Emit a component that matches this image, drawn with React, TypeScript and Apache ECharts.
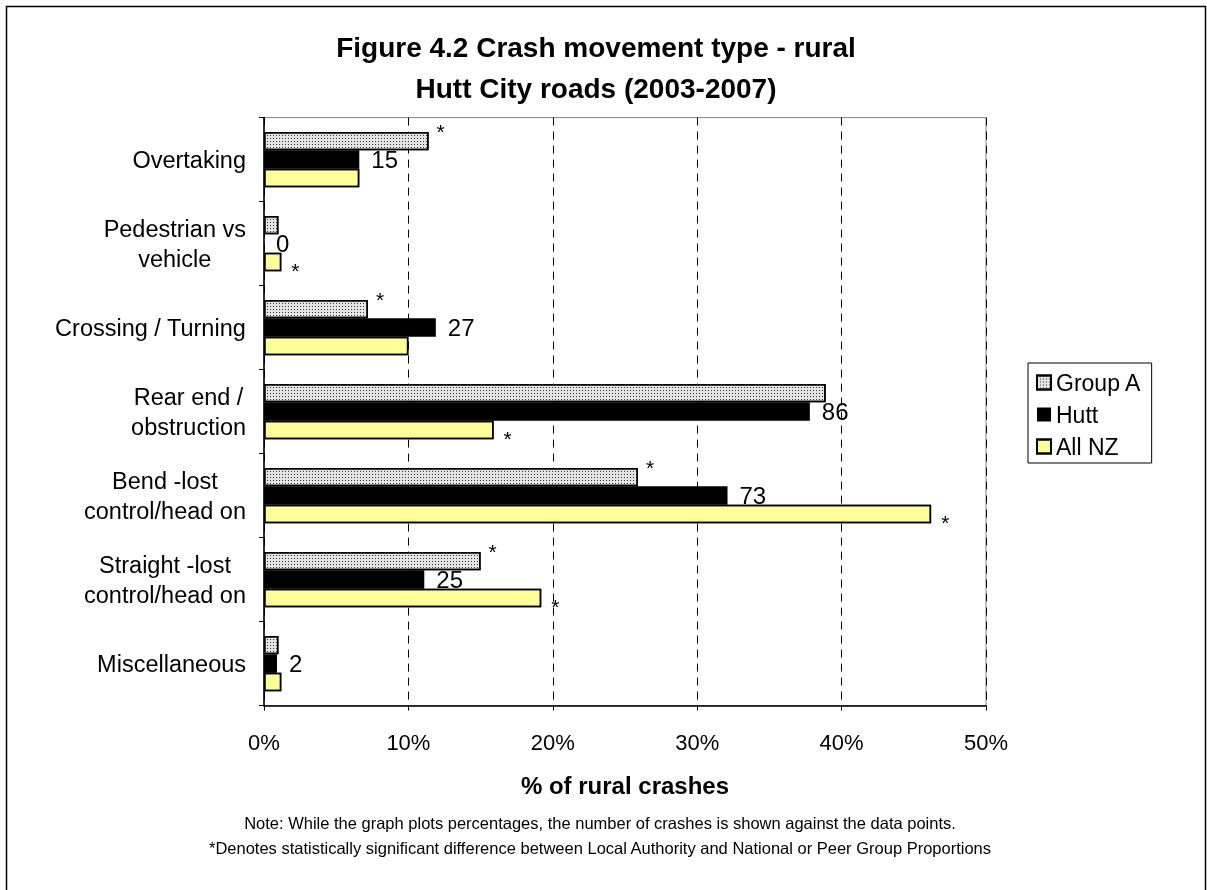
import React, { useEffect, useRef } from "react";
import * as echarts from "echarts";

const categories = [
  "Overtaking",
  "Pedestrian vs\nvehicle",
  "Crossing / Turning",
  "Rear end /\nobstruction",
  "Bend -lost\ncontrol/head on",
  "Straight -lost\ncontrol/head on",
  "Miscellaneous",
];
const groupA = [11.4, 1.0, 7.2, 38.9, 25.9, 15.0, 1.0];
const hutt = [6.6, 0, 11.9, 37.8, 32.1, 11.1, 0.9];
const allNZ = [6.6, 1.2, 10.0, 15.9, 46.2, 19.2, 1.2];
const huttCounts = [15, 0, 27, 86, 73, 25, 2];
const groupASig = [true, false, true, false, true, true, false];
const allNZSig = [false, true, false, true, true, true, false];

const FONT = "'Liberation Sans', Arial, sans-serif";
const NO_DECAL = { symbol: "rect", color: "rgba(0,0,0,0)", dashArrayX: [1, 0], dashArrayY: [1, 0] };

export default function App() {
  const ref = useRef<HTMLDivElement>(null);
  useEffect(() => {
    const chart = echarts.init(ref.current!, null, { renderer: "svg" });
    chart.setOption({
      animation: false,
      aria: { enabled: true, decal: { show: true } },
      textStyle: { fontFamily: FONT },
      graphic: [
        {
          type: "rect",
          shape: { x: 6.5, y: 6.5, width: 1199, height: 900 },
          style: { fill: "none", stroke: "#000", lineWidth: 1.5 },
          silent: true,
        },
        {
          type: "text",
          x: 596,
          y: 27,
          style: {
            text: "Figure 4.2 Crash movement type - rural\nHutt City roads (2003-2007)",
            fontSize: 28,
            fontWeight: "bold",
            fontFamily: FONT,
            lineHeight: 41,
            align: "center",
            verticalAlign: "top",
            fill: "#000",
          },
        },
        {
          type: "text",
          x: 600,
          y: 823,
          style: {
            text: "Note: While the graph plots percentages, the number of crashes is shown against the data points.",
            fontSize: 16.5,
            fontFamily: FONT,
            align: "center",
            verticalAlign: "middle",
            fill: "#000",
          },
        },
        {
          type: "text",
          x: 600,
          y: 848,
          style: {
            text: "*Denotes statistically significant difference between Local Authority and National or Peer Group Proportions",
            fontSize: 16.5,
            fontFamily: FONT,
            align: "center",
            verticalAlign: "middle",
            fill: "#000",
          },
        },
      ],
      legend: {
        orient: "vertical",
        left: 1028,
        top: 363,
        padding: [8, 10, 5, 8],
        backgroundColor: "#fff",
        borderColor: "#000",
        borderWidth: 1,
        itemWidth: 14,
        itemHeight: 14,
        itemGap: 9,
        icon: "rect",
        textStyle: { fontSize: 23, fontFamily: FONT, color: "#000" },
        data: ["Group A", "Hutt", "All NZ"],
      },
      grid: {
        left: 264,
        top: 117.6,
        right: 221,
        bottom: 184.4,
        show: true,
        borderColor: "#808080",
        borderWidth: 1,
        backgroundColor: "#fff",
      },
      xAxis: {
        type: "value",
        min: 0,
        max: 50,
        interval: 10,
        name: "% of rural crashes",
        nameLocation: "middle",
        nameGap: 68,
        nameTextStyle: { fontSize: 24, fontWeight: "bold", fontFamily: FONT, color: "#000" },
        axisLine: { show: true, lineStyle: { color: "#000", width: 1.5 } },
        axisTick: { show: true, length: 5, lineStyle: { color: "#000" } },
        axisLabel: {
          formatter: (v: number) => `${v}%`,
          fontSize: 22,
          fontFamily: FONT,
          color: "#000",
          margin: 26,
        },
        splitLine: { show: true, lineStyle: { color: "#000", type: [8, 6], width: 1 } },
      },
      yAxis: {
        type: "category",
        inverse: true,
        data: categories,
        axisLine: { show: true, lineStyle: { color: "#000", width: 1.5 } },
        axisTick: { show: true, length: 5, lineStyle: { color: "#000" } },
        axisLabel: {
          margin: 18,
          color: "#000",
          formatter: (v: string) =>
            v
              .split("\n")
              .map((l) => `{a|${l}}`)
              .join("\n"),
          rich: {
            a: { fontSize: 23.5, fontFamily: FONT, lineHeight: 30, align: "center", color: "#000" },
          },
        },
      },
      series: [
        {
          name: "Group A",
          type: "bar",
          data: groupA,
          barGap: "0%",
          barCategoryGap: "34%",
          itemStyle: {
            color: "#e4e4e4",
            borderColor: "#000",
            borderWidth: 1.5,
            decal: {
              symbol: "rect",
              symbolSize: 1,
              color: "#333",
              dashArrayX: [1, 2],
              dashArrayY: [1, 2],
              rotation: 0,
            },
          },
          label: {
            show: true,
            position: "right",
            distance: 8,
            offset: [0, -10],
            fontSize: 21,
            color: "#000",
            formatter: (p: any) => (groupASig[p.dataIndex] ? "*" : ""),
          },
        },
        {
          name: "Hutt",
          type: "bar",
          data: hutt,
          barGap: "0%",
          barCategoryGap: "34%",
          itemStyle: { color: "#000", decal: NO_DECAL },
          label: {
            show: true,
            position: "right",
            distance: 12,
            offset: [0, 0],
            fontSize: 24,
            color: "#000",
            formatter: (p: any) => `${huttCounts[p.dataIndex]}`,
          },
        },
        {
          name: "All NZ",
          type: "bar",
          data: allNZ,
          barGap: "0%",
          barCategoryGap: "34%",
          itemStyle: { color: "#ffff99", borderColor: "#000", borderWidth: 1.5, decal: NO_DECAL },
          label: {
            show: true,
            position: "right",
            distance: 10,
            offset: [0, 8],
            fontSize: 21,
            color: "#000",
            formatter: (p: any) => (allNZSig[p.dataIndex] ? "*" : ""),
          },
        },
      ],
    });
    return () => chart.dispose();
  }, []);
  return (
    <div
      ref={ref}
      style={{ position: "fixed", left: 0, top: 0, width: 1207, height: 890 }}
    />
  );
}
